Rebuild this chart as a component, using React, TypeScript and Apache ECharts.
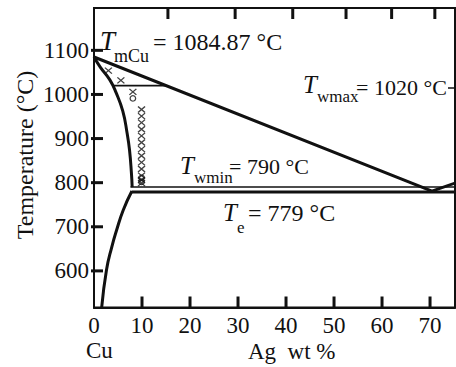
import React, { useEffect, useRef } from "react";
import * as echarts from "echarts";

// ---- data ----
const xTickValues = [0, 10, 20, 30, 40, 50, 60, 70];
const yTickValues = [600, 700, 800, 900, 1000, 1100];
const topTickValues = [15.4, 29.4, 41.4, 52.5, 62.0, 71.0]; // at.% ticks expressed in wt.%

const X_MIN = 0;
const X_MAX = 75.2;
const Y_MIN = 517;
const Y_MAX = 1196;

const liquidusX = [0, 70.4, 76];
const liquidusY = [1084.87, 781, 802];

const solidusX = [0, 1.3, 3.3, 4.6, 6.0, 6.9, 7.4, 7.8, 7.95];
const solidusY = [1084.87, 1062, 1033, 1004, 962, 912, 874, 821, 790];

const solvusX = [7.9, 6.1, 4.7, 3.7, 2.6, 1.6];
const solvusY = [781, 738, 692, 654, 602, 517];

const eutecticX = [7.9, 76];
const eutecticT = 779;
const wminX = [7.6, 76];
const wminT = 790;
const tieX = [3.9, 15.1];
const tieT = 1020;

const crossX = [3.0, 5.6, 8.1, 9.9, 9.9, 9.9, 9.9, 9.9, 9.9, 9.9, 9.9, 9.9, 9.9, 9.9, 9.9, 9.9];
const crossY = [1054, 1032, 1006, 966, 951, 936, 921, 906, 891, 876, 861, 846, 831, 816, 806, 799];
const circleX = [8.1, 9.9, 9.9];
const circleY = [991, 811, 802];

const FONT = "Liberation Serif";
const INK = "#111";

const pairs = (xs: number[], ys: number[]) => xs.map((x, i) => [x, ys[i]]);

export default function App() {
  const ref = useRef<HTMLDivElement>(null);
  useEffect(() => {
    if (!ref.current) return;
    const chart = echarts.init(ref.current, null, { renderer: "svg" });
    const lineBase = { type: "line", showSymbol: false, symbol: "none", silent: true, xAxisIndex: 0, yAxisIndex: 0 };

    const txt = (x: number, y: number, text: string, size: number, extra: any = {}) => ({
      type: "text",
      x,
      y,
      style: { text, fontSize: size, fontFamily: FONT, fill: INK, verticalAlign: "middle", align: "left", ...extra },
    });
    const plain = (v: number) => String(v);
    const option: any = {
      animation: false,
      backgroundColor: "#fff",
      textStyle: { fontFamily: FONT },
      grid: { left: 94, right: 1, top: 8, bottom: 59.5, show: true, borderColor: INK, borderWidth: 2, backgroundColor: "transparent" },
      xAxis: {
        type: "value", min: X_MIN, max: X_MAX, position: "bottom",
        axisLine: { show: true, lineStyle: { color: INK, width: 2 } },
        axisTick: { show: false },
        axisLabel: { show: true, margin: 6, color: INK, fontSize: 23, fontFamily: FONT, customValues: xTickValues, formatter: plain },
        splitLine: { show: false },
      },
      yAxis: {
        type: "value", min: Y_MIN, max: Y_MAX, position: "left",
        axisLine: { show: true, lineStyle: { color: INK, width: 2 } },
        axisTick: { show: false },
        axisLabel: { show: true, margin: 5, color: INK, fontSize: 23, fontFamily: FONT, customValues: yTickValues, formatter: plain },
        splitLine: { show: false },
      },
      series: [
        { ...lineBase, data: pairs(liquidusX, liquidusY), lineStyle: { color: INK, width: 3 } },
        { ...lineBase, data: pairs(solidusX, solidusY), smooth: true, lineStyle: { color: INK, width: 3 } },
        { ...lineBase, data: pairs(solvusX, solvusY), smooth: true, lineStyle: { color: INK, width: 3 } },
        { ...lineBase, data: eutecticX.map((x) => [x, eutecticT]), lineStyle: { color: INK, width: 3 } },
        { ...lineBase, data: wminX.map((x) => [x, wminT]), lineStyle: { color: INK, width: 1.5 } },
        { ...lineBase, data: tieX.map((x) => [x, tieT]), lineStyle: { color: INK, width: 1.8 } },
        {
          type: "scatter", silent: true, data: pairs(crossX, crossY),
          symbol: "path://M0,0L10,10M10,0L0,10", symbolSize: [7, 6],
          itemStyle: { color: "transparent", borderColor: INK, borderWidth: 1.3 },
        },
        {
          type: "scatter", silent: true, data: pairs(circleX, circleY),
          symbol: "circle", symbolSize: 5.5,
          itemStyle: { color: "transparent", borderColor: INK, borderWidth: 1.3 },
        },
      ],
      graphic: [
        { ...txt(25, 155, "Temperature (°C)", 24, { align: "center" }), rotation: Math.PI / 2 },
        txt(86, 350, "Cu", 23),
        txt(248, 351, "Ag  wt %", 23),
        // T_mCu
        txt(100, 41, "T", 27, { fontStyle: "italic" }),
        txt(114, 56, "mCu", 18),
        txt(153, 42, "= 1084.87 °C", 24),
        // T_wmax
        txt(303, 84, "T", 25, { fontStyle: "italic" }),
        txt(317, 96, "wmax", 17),
        txt(356, 87, "= 1020 °C", 22),
        { type: "line", shape: { x1: 448, y1: 88, x2: 455, y2: 88 }, style: { stroke: INK, lineWidth: 1.5 } },
        // T_wmin
        txt(180, 165, "T", 25, { fontStyle: "italic" }),
        txt(194, 177, "wmin", 17),
        txt(229, 166, "= 790 °C", 22),
        // T_e
        txt(223, 212, "T", 25, { fontStyle: "italic" }),
        txt(237, 227, "e", 17),
        txt(248, 213, "= 779 °C", 24),
      ],
    };
    chart.setOption(option);

    // tick marks placed through the chart's own scales
    const toPx = (p: number[]) => chart.convertToPixel({ xAxisIndex: 0, yAxisIndex: 0 }, p) as number[];
    const tickStyle = { stroke: INK, lineWidth: 3 };
    const tickEls: any[] = [];
    xTickValues.filter((v) => v > X_MIN).forEach((v) => {
      const [px, py] = toPx([v, Y_MIN]);
      tickEls.push({ type: "line", shape: { x1: px, y1: py, x2: px, y2: py - 11 }, style: tickStyle, z: 100 });
    });
    topTickValues.forEach((v) => {
      const [px, py] = toPx([v, Y_MAX]);
      tickEls.push({ type: "line", shape: { x1: px, y1: py, x2: px, y2: py + 11 }, style: tickStyle, z: 100 });
    });
    yTickValues.forEach((v) => {
      const [px, py] = toPx([X_MIN, v]);
      tickEls.push({ type: "line", shape: { x1: px - 3, y1: py, x2: px + 9, y2: py }, style: tickStyle, z: 100 });
    });
    chart.setOption({ graphic: [...option.graphic, ...tickEls] });

    return () => chart.dispose();
  }, []);
  return (
    <div
      ref={ref}
      style={{ position: "fixed", left: 0, top: 0, width: 456, height: 367, background: "#fff" }}
    />
  );
}
